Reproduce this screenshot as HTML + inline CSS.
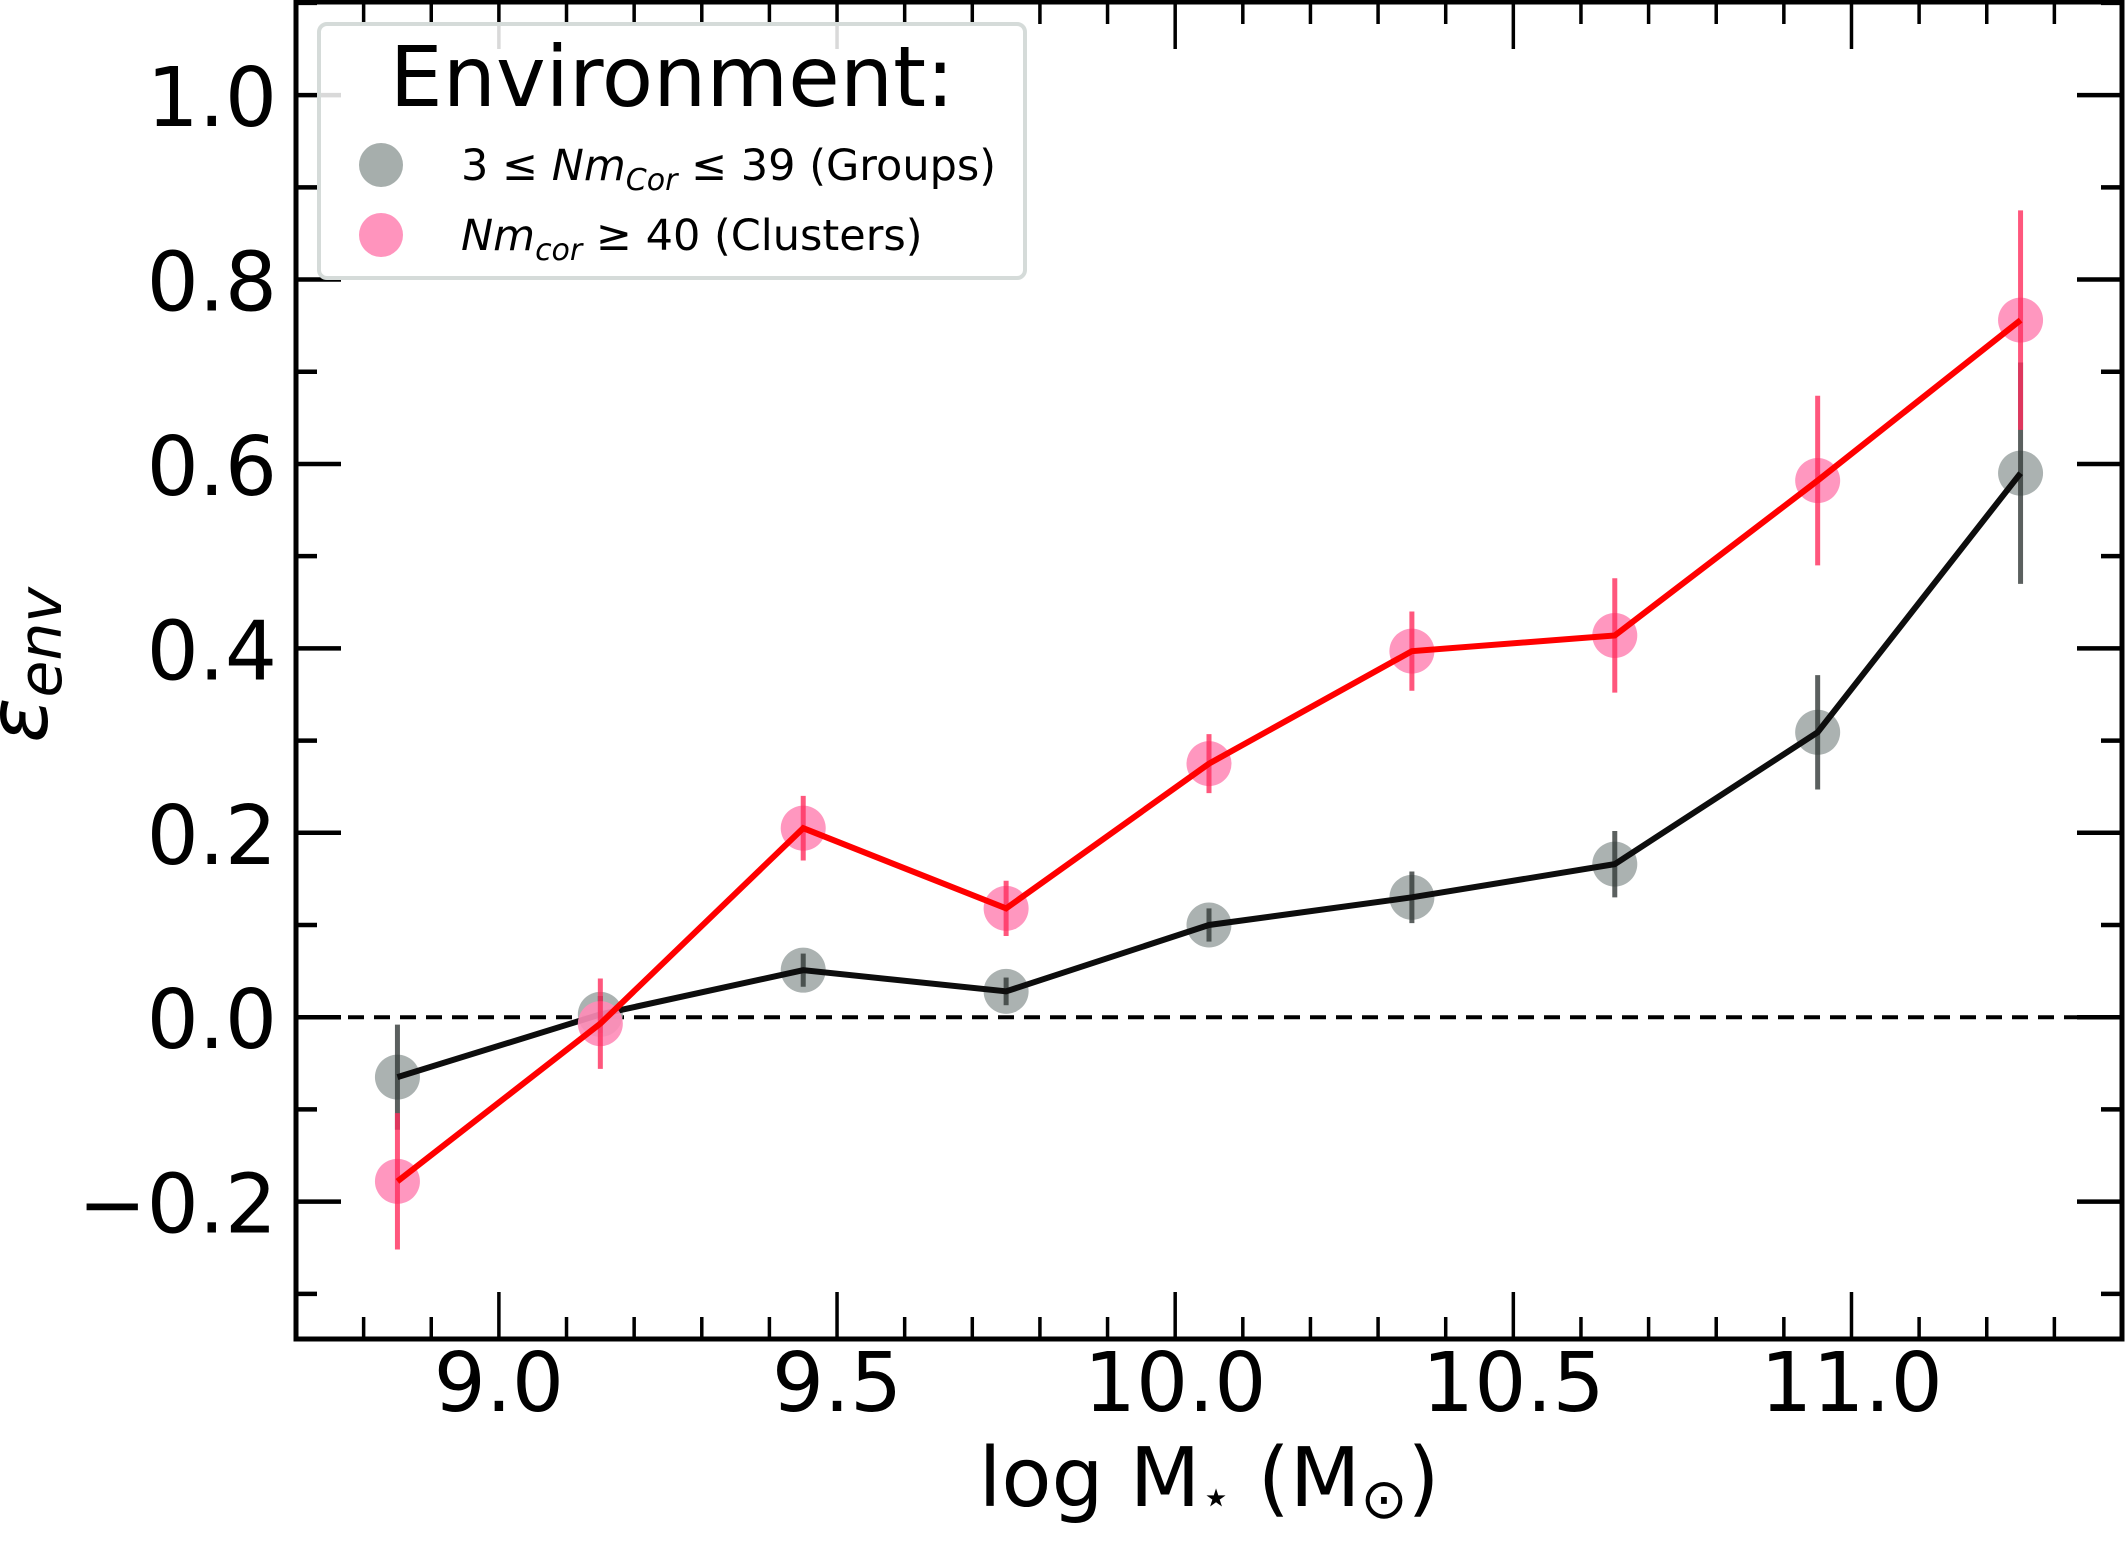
<!DOCTYPE html>
<html><head><meta charset="utf-8"><style>
html,body{margin:0;padding:0;background:#fff;}
svg{display:block;}
text{font-family:"DejaVu Sans","Liberation Sans",sans-serif;fill:#000;}
</style></head><body>
<svg id="chart" width="2127" height="1551" viewBox="0 0 2127 1551" xmlns="http://www.w3.org/2000/svg">
<g id="marks"></g>
<g id="axes"></g>
<g id="legend">
  <rect x="319" y="24" width="706" height="254" rx="8" fill="#fff" fill-opacity="0.85" stroke="#d5dbd9" stroke-width="4"/>
  <text x="672" y="106" font-size="84" text-anchor="middle">Environment:</text>
  <circle cx="381" cy="165" r="22" fill="#a6aeac"/>
  <text x="461" y="180" font-size="43">3 ≤ <tspan font-style="italic">Nm</tspan><tspan font-style="italic" font-size="30" dy="10">Cor</tspan><tspan dy="-10"> ≤ 39 (Groups)</tspan></text>
  <circle cx="381" cy="235" r="22" fill="#ff94bd"/>
  <text x="461" y="250" font-size="43"><tspan font-style="italic">Nm</tspan><tspan font-style="italic" font-size="30" dy="10">cor</tspan><tspan dy="-10"> ≥ 40 (Clusters)</tspan></text>
</g>
</svg>
<script>
const xCategories = [8.85, 9.15, 9.45, 9.75, 10.05, 10.35, 10.65, 10.95, 11.25];
const groupsValues = [-0.065, 0.003, 0.051, 0.028, 0.100, 0.130, 0.166, 0.309, 0.590];
const groupsErrors = [0.057, 0.02, 0.018, 0.015, 0.018, 0.028, 0.036, 0.062, 0.12];
const clustersValues = [-0.178, -0.007, 0.205, 0.118, 0.275, 0.397, 0.414, 0.582, 0.756];
const clustersErrors = [0.074, 0.049, 0.035, 0.030, 0.032, 0.043, 0.062, 0.092, 0.119];
const xTickValues = [9.0, 9.5, 10.0, 10.5, 11.0];
const xTickLabels = ["9.0", "9.5", "10.0", "10.5", "11.0"];
const yTickValues = [-0.2, 0.0, 0.2, 0.4, 0.6, 0.8, 1.0];
const yTickLabels = ["\u22120.2", "0.0", "0.2", "0.4", "0.6", "0.8", "1.0"];

const NS = "http://www.w3.org/2000/svg";
const L = 296, R = 2122, T = 2, B = 1339;
const xMin = 8.7, xMax = 11.4, yMin = -0.349, yMax = 1.101;
function xScale(v){ return L + (v - xMin) / (xMax - xMin) * (R - L); }
function yScale(v){ return B - (v - yMin) / (yMax - yMin) * (B - T); }
function mk(tag, attrs, parent){ const e = document.createElementNS(NS, tag); for (const k in attrs) e.setAttribute(k, attrs[k]); parent.appendChild(e); return e; }

const marks = document.getElementById('marks');
const axes = document.getElementById('axes');

const zl = mk('line', {x1:L, x2:R, y1:yScale(0), y2:yScale(0), stroke:'#000', 'stroke-width':4, 'stroke-dasharray':'16,10'}, marks);



function drawSeries(vals, errs, mColor, eColor, lColor, name){
  const g = mk('g', {}, marks);
  
  
  vals.forEach((v, i) => {
    const c = mk('circle', {cx:xScale(xCategories[i]), cy:yScale(v), r:22.5, fill:mColor, 'fill-opacity':0.9}, g);
    
    
  });
  vals.forEach((v, i) => {
    const e = mk('line', {x1:xScale(xCategories[i]), x2:xScale(xCategories[i]), y1:yScale(v + errs[i]), y2:yScale(v - errs[i]), stroke:eColor, 'stroke-width':5, 'stroke-opacity':0.8}, g);
    
    
  });
  const pts = vals.map((v, i) => xScale(xCategories[i]) + ',' + yScale(v)).join(' ');
  const pl = mk('polyline', {points:pts, fill:'none', stroke:lColor, 'stroke-width':6, 'stroke-linejoin':'miter'}, g);
  
  
}
drawSeries(groupsValues, groupsErrors, '#a2aaa8', '#323837', '#0d0d0d', 'groups');
drawSeries(clustersValues, clustersErrors, '#ff8cb8', '#ff2d5c', '#ff0000', 'clusters');

const fr = mk('rect', {x:L, y:T, width:R-L, height:B-T, fill:'none', stroke:'#000', 'stroke-width':5}, axes);



for (let k = 87; k <= 114; k++){
  const v = k / 10; const major = (k % 5 === 0); const len = major ? 47 : 22;
  const x = xScale(v);
  const t1 = mk('line', {x1:x, x2:x, y1:B, y2:B-len, stroke:'#000', 'stroke-width':3.5}, axes);
  
  
  const t2 = mk('line', {x1:x, x2:x, y1:T, y2:T+len, stroke:'#000', 'stroke-width':3.5}, axes);
  
  
}
xTickValues.forEach((v, i) => {
  const t = mk('text', {x:xScale(v), y:1411, 'font-size':82, 'text-anchor':'middle'}, axes);
  t.textContent = xTickLabels[i];
  
  
});
for (let k = -3; k <= 11; k++){
  const v = k / 10; const major = (k % 2 === 0); const len = major ? 45 : 21;
  const y = yScale(v);
  const t1 = mk('line', {x1:L, x2:L+len, y1:y, y2:y, stroke:'#000', 'stroke-width':4.5}, axes);
  
  
  const t2 = mk('line', {x1:R, x2:R-len, y1:y, y2:y, stroke:'#000', 'stroke-width':4.5}, axes);
  
  
}
yTickValues.forEach((v, i) => {
  const t = mk('text', {x:277, y:yScale(v)+31, 'font-size':82, 'text-anchor':'end'}, axes);
  t.textContent = yTickLabels[i];
  
  
});
const xt = mk('text', {x:1209, y:1506, 'font-size':82, 'text-anchor':'middle'}, axes);
xt.innerHTML = 'log M<tspan font-size="50" dy="8">\u22C6</tspan><tspan dy="-8"> (M</tspan><tspan font-size="56" dy="12">\u2299</tspan><tspan dy="-12">)</tspan>';


const yt = mk('text', {x:0, y:0, 'font-size':84, 'text-anchor':'middle', transform:'translate(47,665) rotate(-90)'}, axes);
yt.innerHTML = '<tspan font-style="italic">\u03B5</tspan><tspan font-style="italic" font-size="60" dy="14">env</tspan>';


</script>
</body></html>
